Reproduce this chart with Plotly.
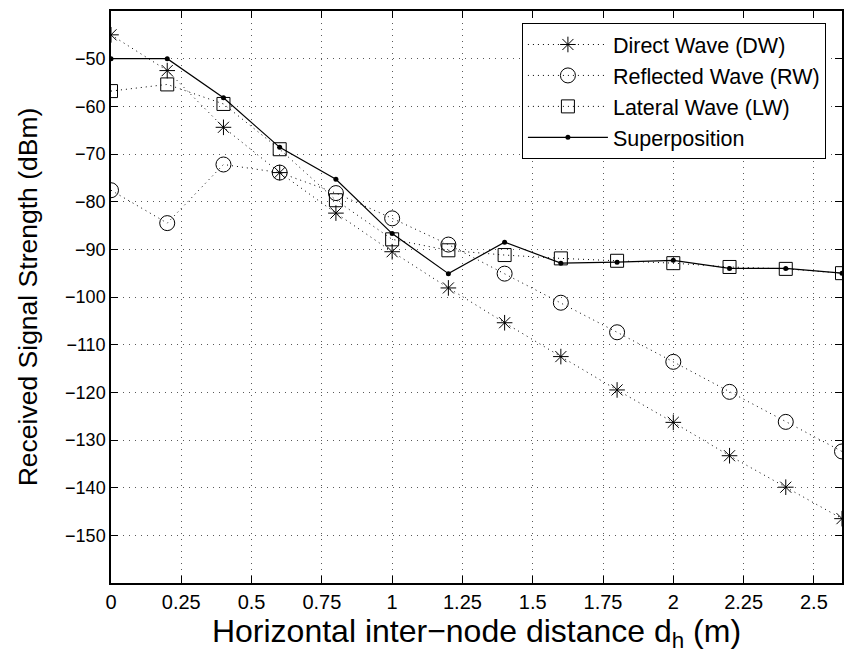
import plotly.graph_objects as go

x_vals = [0, 0.2, 0.4, 0.6, 0.8, 1.0, 1.2, 1.4, 1.6, 1.8, 2.0, 2.2, 2.4, 2.6]
direct_wave = [-45.0, -52.5, -64.4, -73.9, -82.4, -90.5, -98.1, -105.4, -112.5, -119.5, -126.3, -133.3, -139.9, -146.5]
reflected_wave = [-77.6, -84.5, -72.2, -73.9, -78.2, -83.5, -89.0, -95.1, -101.2, -107.4, -113.6, -119.9, -126.2, -132.4]
lateral_wave = [-56.8, -55.4, -59.5, -69.0, -79.7, -87.9, -90.2, -91.2, -91.9, -92.4, -92.9, -93.7, -94.1, -95.0]
superposition = [-50.0, -50.0, -58.2, -68.6, -75.3, -86.7, -95.1, -88.5, -92.9, -92.7, -92.3, -94.0, -94.0, -95.0]

x_ticks = [0, 0.25, 0.5, 0.75, 1, 1.25, 1.5, 1.75, 2, 2.25, 2.5]
x_tick_text = ["0", "0.25", "0.5", "0.75", "1", "1.25", "1.5", "1.75", "2", "2.25", "2.5"]
y_ticks = [-150, -140, -130, -120, -110, -100, -90, -80, -70, -60, -50]
y_tick_text = ["\u2212" + str(abs(v)) for v in y_ticks]

FONT = "Liberation Sans, Arial, Helvetica, sans-serif"
DOT = "1px,4px"

fig = go.Figure()
fig.add_trace(go.Scatter(
    x=x_vals, y=direct_wave, name="Direct Wave (DW)", mode="lines+markers",
    line=dict(color="black", width=1, dash=DOT),
    marker=dict(symbol="asterisk-open", size=13, color="black", line=dict(color="black", width=1)),
))
fig.add_trace(go.Scatter(
    x=x_vals, y=reflected_wave, name="Reflected Wave (RW)", mode="lines+markers",
    line=dict(color="black", width=1, dash=DOT),
    marker=dict(symbol="circle-open", size=15, color="black", line=dict(color="black", width=1)),
))
fig.add_trace(go.Scatter(
    x=x_vals, y=lateral_wave, name="Lateral Wave (LW)", mode="lines+markers",
    line=dict(color="black", width=1, dash=DOT),
    marker=dict(symbol="square-open", size=13, color="black", line=dict(color="black", width=1)),
))
fig.add_trace(go.Scatter(
    x=x_vals, y=superposition, name="Superposition", mode="lines+markers",
    line=dict(color="black", width=1.2),
    marker=dict(symbol="circle", size=5, color="black"),
))

axis_common = dict(
    showline=True, linecolor="black", linewidth=1.5, mirror="ticks",
    ticks="inside", ticklen=7, tickwidth=1, tickcolor="black",
    showgrid=True, gridcolor="rgba(0,0,0,0.65)", gridwidth=1, griddash="1px,5px",
    zeroline=False,
)

fig.update_layout(
    width=850, height=662,
    margin=dict(l=111, r=6, t=11, b=79),
    paper_bgcolor="white", plot_bgcolor="white",
    font=dict(family=FONT, color="black", size=18),
    xaxis=dict(
        range=[0, 2.6], tickvals=x_ticks, ticktext=x_tick_text,
        tickfont=dict(family=FONT, size=20),
        title=dict(text="Horizontal inter\u2212node distance d<sub>h</sub> (m)",
                   font=dict(family=FONT, size=32), standoff=0),
        **axis_common,
    ),
    yaxis=dict(
        range=[-160, -40], tickvals=y_ticks, ticktext=y_tick_text,
        tickfont=dict(family=FONT, size=18),
        title=dict(text="Received Signal Strength (dBm)", font=dict(family=FONT, size=26.5), standoff=20),
        **axis_common,
    ),
    legend=dict(
        x=0.978, y=0.979, xanchor="right", yanchor="top",
        bgcolor="white", bordercolor="black", borderwidth=1,
        font=dict(family=FONT, size=21.5), itemwidth=80,
        tracegroupgap=0,
    ),
    showlegend=True,
)

fig.write_html("out.html")
